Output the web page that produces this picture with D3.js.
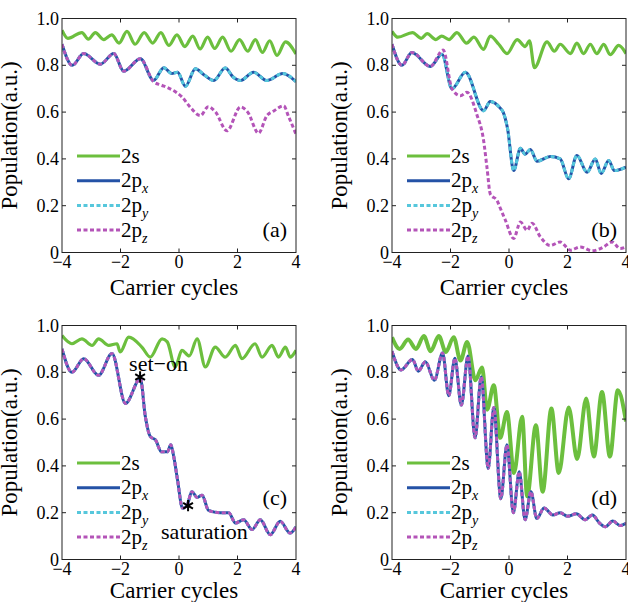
<!DOCTYPE html>
<html>
<head>
<meta charset="UTF-8">
<script src="https://d3js.org/d3.v7.min.js"></script>
</head>
<body style="margin:0">
<script>
const xTicks = [-4, -2, 0, 2, 4];
const yTicks = [0, 0.2, 0.4, 0.6, 0.8, 1.0];
const yTickLabels = ["0", "0.2", "0.4", "0.6", "0.8", "1.0"];
const panelLabels = ["(a)", "(b)", "(c)", "(d)"];
const legendNames = [["2s", ""], ["2p", "x"], ["2p", "y"], ["2p", "z"]];

// panel (a)
const a2s = [[-4,0.95],[-3.8,0.915],[-3.32,0.94],[-3.1,0.912],[-2.86,0.94],[-2.58,0.91],[-2.3,0.93],[-2.05,0.895],
  [-1.78,0.945],[-1.5,0.89],[-1.19,0.94],[-0.9,0.895],[-0.62,0.94],[-0.35,0.885],[-0.07,0.93],[0.2,0.88],
  [0.47,0.925],[0.72,0.87],[0.98,0.92],[1.22,0.872],[1.49,0.92],[1.78,0.86],[2.07,0.91],[2.35,0.86],
  [2.61,0.91],[2.85,0.855],[3.1,0.905],[3.35,0.842],[3.64,0.9],[4,0.848]];
const a2px = [[-4,0.89],[-3.65,0.8],[-3.26,0.85],[-2.69,0.805],[-2.23,0.85],[-1.89,0.775],[-1.32,0.828],
  [-0.87,0.735],[-0.52,0.79],[-0.25,0.765],[-0.05,0.77],[0.22,0.71],[0.56,0.785],[0.85,0.76],[1.19,0.735],
  [1.58,0.788],[1.85,0.75],[2.1,0.735],[2.55,0.77],[3.0,0.735],[3.55,0.765],[4,0.73]];
const a2py = a2px;
const a2pz = [[-4,0.89],[-3.65,0.8],[-3.26,0.85],[-2.69,0.805],[-2.23,0.85],[-1.89,0.775],[-1.32,0.828],
  [-0.87,0.73],[-0.6,0.715],[-0.4,0.705],[-0.1,0.685],[0.1,0.665],[0.39,0.62],[0.73,0.585],[1.0,0.623],
  [1.25,0.6],[1.64,0.52],[2.1,0.622],[2.35,0.6],[2.72,0.51],[3.0,0.584],[3.24,0.605],[3.58,0.627],[3.75,0.58],[4,0.506]];

// panel (b)
const b2s = [[-4,0.945],[-3.8,0.92],[-3.3,0.94],[-3.0,0.915],[-2.8,0.935],[-2.5,0.91],[-2.3,0.925],[-2.05,0.91],
  [-1.78,0.94],[-1.45,0.895],[-1.2,0.92],[-0.87,0.868],[-0.64,0.925],[-0.35,0.89],[-0.07,0.85],[0.28,0.91],
  [0.55,0.88],[0.7,0.905],[0.87,0.79],[1.3,0.9],[1.55,0.86],[1.75,0.89],[2.1,0.85],[2.32,0.895],[2.55,0.85],
  [2.78,0.89],[3.0,0.85],[3.24,0.89],[3.46,0.845],[3.75,0.885],[4,0.85]];
const b2px = [[-4,0.89],[-3.66,0.8],[-3.32,0.855],[-2.69,0.795],[-2.29,0.847],[-1.95,0.7],[-1.49,0.77],
  [-0.87,0.606],[-0.64,0.645],[-0.3,0.617],[-0.2,0.6],[-0.05,0.53],[0.16,0.35],[0.39,0.445],[0.55,0.42],
  [0.73,0.44],[0.96,0.39],[1.41,0.41],[1.75,0.4],[2.04,0.315],[2.32,0.415],[2.67,0.343],[2.95,0.4],
  [3.15,0.338],[3.41,0.393],[3.6,0.35],[4,0.365]];
const b2py = b2px;
const b2pz = [[-4,0.89],[-3.66,0.8],[-3.32,0.855],[-2.69,0.795],[-2.25,0.865],[-1.95,0.7],[-1.66,0.67],
  [-1.44,0.685],[-1.1,0.59],[-0.87,0.48],[-0.75,0.36],[-0.64,0.25],[-0.4,0.22],[-0.3,0.19],[-0.13,0.14],
  [0.16,0.06],[0.39,0.13],[0.62,0.095],[0.79,0.125],[1.07,0.067],[1.41,0.03],[1.75,0.045],[2.1,0.01],
  [2.44,0.024],[2.84,0.007],[3.24,0.024],[3.52,0.045],[3.8,0.017],[4,0.024]];

// panel (c)
const c2s = [[-4,0.957],[-3.66,0.922],[-3.32,0.943],[-2.97,0.915],[-2.75,0.943],[-2.4,0.915],[-2.12,0.922],
  [-2.01,0.887],[-1.72,0.95],[-1.27,0.908],[-0.98,0.865],[-0.58,0.943],[-0.4,0.93],[-0.13,0.823],[0.1,0.894],
  [0.35,0.87],[0.62,0.943],[0.9,0.823],[1.24,0.908],[1.58,0.865],[1.93,0.915],[2.15,0.858],[2.6,0.922],
  [2.84,0.865],[3.18,0.915],[3.4,0.865],[3.64,0.908],[3.8,0.865],[4,0.894]];
const c2px = [[-4,0.9],[-3.66,0.8],[-3.26,0.858],[-2.75,0.787],[-2.29,0.88],[-1.83,0.667],[-1.32,0.773],
  [-1.15,0.61],[-0.98,0.525],[-0.8,0.51],[-0.6,0.46],[-0.4,0.46],[-0.28,0.49],[-0.18,0.44],[-0.05,0.34],
  [0.12,0.22],[0.27,0.23],[0.44,0.29],[0.62,0.265],[0.79,0.275],[1.01,0.21],[1.41,0.2],[1.7,0.2],[1.93,0.156],
  [2.21,0.17],[2.5,0.128],[2.78,0.17],[3.12,0.106],[3.46,0.163],[3.8,0.113],[4,0.14]];
const c2py = c2px;
const c2pz = c2px;

// panel (d)
const d2s = [[-4,0.95],[-3.74,0.9],[-3.45,0.94],[-3.18,0.9],[-2.91,0.955],[-2.68,0.89],[-2.4,0.955],[-2.16,0.887],
  [-1.89,0.95],[-1.66,0.85],[-1.43,0.93],[-1.15,0.766],[-0.92,0.82],[-0.75,0.64],[-0.52,0.745],[-0.3,0.52],
  [-0.07,0.63],[0.17,0.37],[0.45,0.61],[0.62,0.27],[0.92,0.574],[1.15,0.29],[1.45,0.645],[1.7,0.37],
  [2.04,0.65],[2.33,0.43],[2.64,0.688],[2.9,0.44],[3.18,0.716],[3.45,0.44],[3.72,0.723],[4,0.59]];
const d2px = [[-4,0.89],[-3.69,0.81],[-3.3,0.855],[-3.1,0.805],[-2.86,0.845],[-2.55,0.766],[-2.27,0.883],
  [-2.06,0.7],[-1.85,0.86],[-1.63,0.66],[-1.4,0.87],[-1.16,0.52],[-0.95,0.78],[-0.71,0.39],[-0.52,0.65],
  [-0.28,0.26],[-0.07,0.49],[0.15,0.2],[0.35,0.375],[0.55,0.17],[0.75,0.29],[0.95,0.175],[1.2,0.22],
  [1.5,0.19],[1.75,0.2],[2.0,0.185],[2.3,0.195],[2.6,0.17],[2.85,0.19],[3.1,0.155],[3.3,0.14],
  [3.55,0.165],[3.8,0.145],[4,0.155]];
const d2py = d2px;
const d2pz = d2px;

// marked points in (c)
const markers = [{x: -1.33, y: 0.78, text: "set\u2212on", dx: -11, dy: -6},
                 {x: 0.31, y: 0.23, text: "saturation", dx: -27, dy: 33}];

const panelData = [
  [a2s, a2px, a2py, a2pz],
  [b2s, b2px, b2py, b2pz],
  [c2s, c2px, c2py, c2pz],
  [d2s, d2px, d2py, d2pz]
];

const colors = ["#6cbf3e", "#2452a6", "#56c7dc", "#b454b8"];
const dashes = [null, null, "4,2.5", "4,2.5"];
const serifFont = "Liberation Serif";

const panels = [
  {left: 62, top: 18.5, row: 0},
  {left: 392, top: 18.5, row: 0},
  {left: 62, top: 325.5, row: 1},
  {left: 392, top: 325.5, row: 1}
];
const W = 234, H = 234;

const svg = d3.select("body").append("svg")
  .attr("width", 628)
  .attr("height", 602);

const minus = s => s.replace("-", "\u2212");

// all text goes straight on the svg root, absolute coordinates
function label(xp, yp, str, size, anchor) {
  return svg.append("text")
    .attr("x", xp).attr("y", yp)
    .attr("font-size", size)
    .attr("font-family", serifFont)
    .style("font-family", `"${serifFont}"`)
    .attr("text-anchor", anchor || "start")
    .text(str);
}

panels.forEach((p, i) => {
  const x = d3.scaleLinear().domain([-4, 4]).range([p.left, p.left + W]);
  const y = d3.scaleLinear().domain([0, 1]).range([p.top + H, p.top]);
  const bottom = p.top + H, right = p.left + W;

  svg.append("clipPath").attr("id", "clip" + i)
    .append("rect").attr("x", p.left).attr("y", p.top).attr("width", W).attr("height", H);

  const line = d3.line()
    .x(d => x(d[0]))
    .y(d => y(d[1]))
    .curve(d3.curveMonotoneX);

  const plot = svg.append("g").attr("clip-path", `url(#clip${i})`);
  panelData[i].forEach((s, k) => {
    plot.append("path")
      .attr("d", line(s))
      .attr("fill", "none")
      .attr("stroke", colors[k])
      .attr("stroke-width", k === 0 ? (i === 3 ? 4 : 3.2) : 3)
      .attr("stroke-dasharray", dashes[k]);
  });

  // box and inward ticks
  svg.append("rect").attr("x", p.left).attr("y", p.top).attr("width", W).attr("height", H)
    .attr("fill", "none").attr("stroke", "#222").attr("stroke-width", 1);

  xTicks.slice(1, -1).forEach(t => {
    svg.append("line").attr("x1", x(t)).attr("x2", x(t)).attr("y1", bottom).attr("y2", bottom - 4).attr("stroke", "#222");
    svg.append("line").attr("x1", x(t)).attr("x2", x(t)).attr("y1", p.top).attr("y2", p.top + 4).attr("stroke", "#222");
  });
  yTicks.slice(1, -1).forEach(t => {
    svg.append("line").attr("x1", p.left).attr("x2", p.left + 4).attr("y1", y(t)).attr("y2", y(t)).attr("stroke", "#222");
    svg.append("line").attr("x1", right).attr("x2", right - 4).attr("y1", y(t)).attr("y2", y(t)).attr("stroke", "#222");
  });

  // tick labels
  xTicks.forEach(t => label(x(t), bottom + 15.5, minus(String(t)), 18, "middle"));
  yTicks.forEach((t, j) => label(p.left - 3, y(t) + 6, yTickLabels[j], 18, "end"));

  // axis titles
  label(p.left + W / 2 - 5, bottom + (p.row === 0 ? 42.5 : 38.5), "Carrier cycles", 23, "middle");
  label(0, 0, "Population(a.u.)", 23, "middle")
    .attr("transform", `translate(${p.left - 45},${p.top + H / 2}) rotate(-90)`);

  // legend
  const lx = p.left + 15;
  legendNames.forEach((nm, k) => {
    const ly = p.top + 137.5 + k * 24.7;
    svg.append("line")
      .attr("x1", lx).attr("x2", lx + 43).attr("y1", ly).attr("y2", ly)
      .attr("stroke", colors[k]).attr("stroke-width", 3)
      .attr("stroke-dasharray", dashes[k]);
    const t = label(lx + 44, ly + 6.5, nm[0], 21);
    if (nm[1]) {
      t.append("tspan").attr("dy", 6).attr("font-size", 14).attr("font-style", "italic").text(nm[1]);
    }
  });

  // panel label
  label(right - 9, p.row === 0 ? bottom - 15.5 : bottom - 55, panelLabels[i], 22, "end");

  if (i === 2) {
    markers.forEach(m => {
      svg.append("path")
        .attr("transform", `translate(${x(m.x)},${y(m.y)})`)
        .attr("d", d3.symbol(d3.symbolAsterisk, 90)())
        .attr("fill", "none").attr("stroke", "#000").attr("stroke-width", 2);
      label(x(m.x) + m.dx, y(m.y) + m.dy, m.text, 22);
    });
  }
});
</script>
</body>
</html>
